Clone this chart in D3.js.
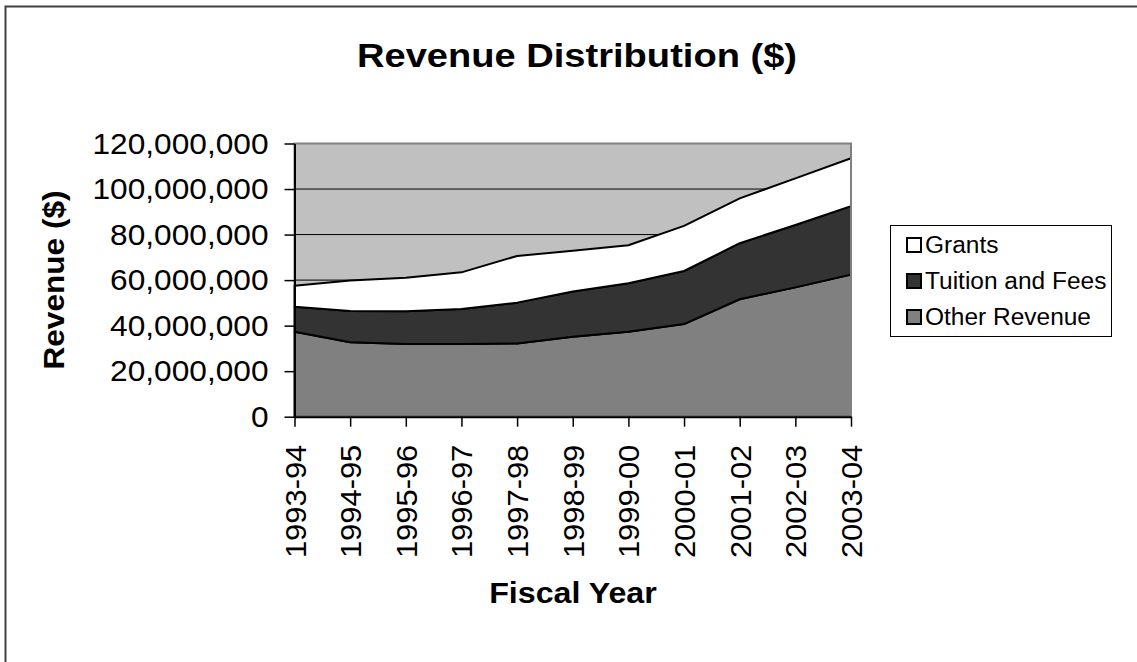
<!DOCTYPE html>
<html>
<head>
<meta charset="utf-8">
<script src="https://cdn.jsdelivr.net/npm/d3@7"></script>
<style>
  html, body { margin: 0; padding: 0; background: #fff; overflow: hidden; }
  svg { display: block; font-family: Arial, "Liberation Sans", sans-serif; }
</style>
</head>
<body>
<svg id="chart" width="1137" height="662"></svg>
<script>
// ---- Data ----
const categories = ["1993-94","1994-95","1995-96","1996-97","1997-98","1998-99","1999-00","2000-01","2001-02","2002-03","2003-04"];
const otherRevenue = [37300000,32700000,31900000,31900000,32200000,35100000,37300000,40700000,51600000,56800000,62400000];
const tuitionFees  = [11000000,13700000,14400000,15400000,17900000,19900000,21300000,23300000,24600000,27400000,30100000];
const grants       = [ 9200000,13400000,14700000,16100000,20500000,17900000,16700000,19800000,19700000,20500000,21000000];
const seriesNames = ["Other Revenue","Tuition and Fees","Grants"];
const legendOrder = ["Grants","Tuition and Fees","Other Revenue"];
const yTicks = [0,20000000,40000000,60000000,80000000,100000000,120000000];
const titleText = "Revenue Distribution ($)";
const xTitle = "Fiscal Year";
const yTitle = "Revenue ($)";

const colors = {"Grants":"#ffffff","Tuition and Fees":"#333333","Other Revenue":"#808080"};

const svg = d3.select("#chart");

// stretch text horizontally to mimic the original's wider glyphs
function widen(sel, f) {
  sel.each(function() {
    const n = this.getComputedTextLength();
    d3.select(this).attr("textLength", n * f).attr("lengthAdjust", "spacingAndGlyphs");
  });
}

// outer border (only top and left edges fall inside the picture)
svg.append("path").attr("d","M5.5,700 L5.5,6.5 L1200,6.5")
  .attr("fill","none").attr("stroke","#404040").attr("stroke-width",2);

const pLeft = 294.5, pRight = 851, pTop = 143.5, pBottom = 416.7;

const x = d3.scalePoint().domain(categories).range([pLeft, pRight]);
const y = d3.scaleLinear().domain([0,120000000]).range([pBottom, pTop]);

// plot background
svg.append("rect").attr("x",pLeft).attr("y",pTop).attr("width",pRight-pLeft).attr("height",pBottom-pTop)
  .attr("fill","#c0c0c0");

// gridlines
svg.append("g").selectAll("line").data(yTicks.filter(d=>d>0 && d<120000000)).join("line")
  .attr("x1",pLeft).attr("x2",pRight).attr("y1",d=>y(d)).attr("y2",d=>y(d))
  .attr("stroke","#000").attr("stroke-width",1);

// stack
const table = categories.map((c,i)=>({cat:c,"Other Revenue":otherRevenue[i],"Tuition and Fees":tuitionFees[i],"Grants":grants[i]}));
const stacked = d3.stack().keys(seriesNames)(table);
const area = d3.area().x(d=>x(d.data.cat)).y0(d=>y(d[0])).y1(d=>y(d[1]));

svg.append("g").selectAll("path").data(stacked).join("path")
  .attr("d",area)
  .attr("fill",d=>colors[d.key])
  .attr("stroke","#000").attr("stroke-width",2).attr("stroke-linejoin","round");

// plot border (gray)
svg.append("rect").attr("x",pLeft).attr("y",pTop).attr("width",pRight-pLeft).attr("height",pBottom-pTop)
  .attr("fill","none").attr("stroke","#808080").attr("stroke-width",2);

// axes
const yAxis = d3.axisLeft(y).tickValues(yTicks).tickSize(10).tickSizeOuter(0)
  .tickFormat(d3.format(","));
const gy = svg.append("g").attr("transform",`translate(${pLeft},0)`).call(yAxis);
gy.select(".domain").attr("stroke","#000").attr("stroke-width",2);
gy.selectAll(".tick line").attr("stroke","#000").attr("stroke-width",1.5);
gy.selectAll(".tick text").attr("x",-26).attr("font-size",30).attr("font-family","Arial, 'Liberation Sans', sans-serif").attr("fill","#000")
  .call(widen, 1.055);

const xAxis = d3.axisBottom(x).tickSize(10).tickSizeOuter(0);
const gx = svg.append("g").attr("transform",`translate(0,${pBottom})`).call(xAxis);
gx.select(".domain").attr("stroke","#000").attr("stroke-width",2);
gx.selectAll(".tick line").attr("stroke","#000").attr("stroke-width",1.5);
gx.selectAll(".tick text")
  .attr("transform","rotate(-90)")
  .attr("x",-28).attr("y",0).attr("dy","0.35em")
  .attr("text-anchor","end")
  .attr("font-size",30).attr("font-family","Arial, 'Liberation Sans', sans-serif").attr("fill","#000")
  .call(widen, 1.03);

// title
svg.append("text").attr("x",577).attr("y",67).attr("text-anchor","middle")
  .attr("font-size",34).attr("font-weight","bold").text(titleText)
  .call(widen, 1.12);

// axis titles
svg.append("text").attr("x",573).attr("y",603).attr("text-anchor","middle")
  .attr("font-size",29).attr("font-weight","bold").text(xTitle)
  .call(widen, 1.11);
svg.append("text").attr("transform","translate(64,280) rotate(-90)").attr("text-anchor","middle")
  .attr("font-size",29).attr("font-weight","bold").text(yTitle)
  .call(widen, 1.09);

// legend
const lg = svg.append("g");
lg.append("rect").attr("x",890.5).attr("y",225.5).attr("width",221).attr("height",111)
  .attr("fill","#fff").attr("stroke","#000").attr("stroke-width",1);
const rowY = [245,281,317];
legendOrder.forEach((k,i)=>{
  lg.append("rect").attr("x",907).attr("y",rowY[i]-7).attr("width",14).attr("height",14)
    .attr("fill",colors[k]).attr("stroke","#000").attr("stroke-width",2);
  lg.append("text").attr("x",925).attr("y",rowY[i]).attr("dy","0.35em")
    .attr("font-size",23).text(k)
    .call(widen, 1.064);
});
</script>
</body>
</html>
